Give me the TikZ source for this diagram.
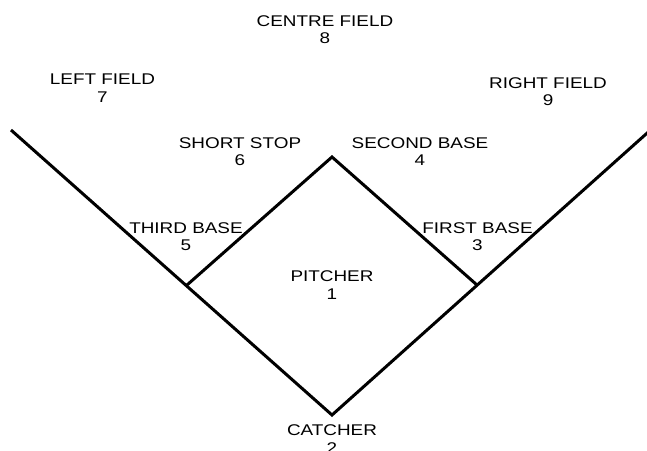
\documentclass[tikz,border=0pt]{standalone}
\usepackage{fontspec}
\usepackage{tikz}
\usetikzlibrary{positioning,calc}
\newfontfamily\lblfont[FakeStretch=1.22]{Liberation Sans}
\definecolor{Ink}{HTML}{000000}

\begin{document}
\begin{tikzpicture}[x=1pt,y=-1pt,
    fielder/.style={anchor=base,align=center,inner sep=0pt,color=Ink,
      font=\lblfont\fontsize{15.5}{17.5}\selectfont},
    chalk/.style={Ink,line width=3pt}]
        \useasboundingbox (0,0) rectangle (647,450);
        % the infield
        \coordinate (home) at (332,415);
        \coordinate (first) at (477,285);
        \coordinate (second) at (332,157);
        \coordinate (third) at (187,285);
        \coordinate (lfoul) at (11,130);
        \coordinate (rfoul) at (655,126);
        \draw[chalk] (lfoul) -- (home) -- (rfoul);
        \draw[chalk] (third) -- (second) -- (first);
        % fielders (anchored on the number's baseline)
        \node[fielder] (cf) at (325,43.5) {CENTRE FIELD\\8};
        \node[fielder] (lf) at (102.5,102.2) {LEFT FIELD\\7};
        \node[fielder] (rf) at (548,105.5) {RIGHT FIELD\\9};
        \node[fielder] (ss) at (240,165.5) {SHORT STOP\\6};
        \node[fielder] (b2) at (420,165.5) {SECOND BASE\\4};
        \node[fielder] (b3) at (186,250.8) {THIRD BASE\\5};
        \node[fielder] (b1) at (477.5,250.8) {FIRST BASE\\3};
        \node[fielder] (p) at (332,299.2) {PITCHER\\1};
        \node[fielder] (c) at (332,453.2) {CATCHER\\2};
      \end{tikzpicture}
\end{document}
